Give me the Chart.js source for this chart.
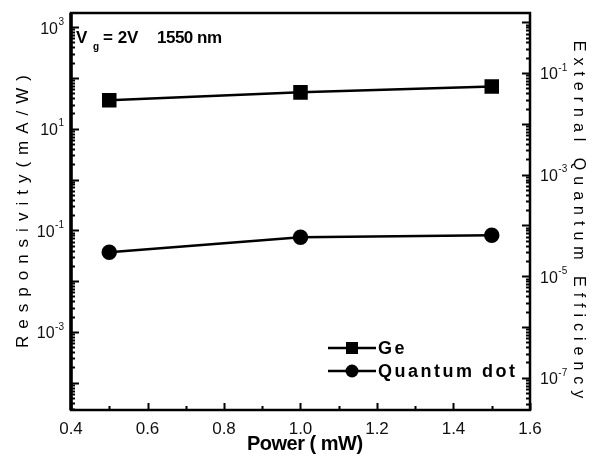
<!DOCTYPE html>
<html>
<head>
<meta charset="utf-8">
<script src="https://cdn.jsdelivr.net/npm/chart.js@4.4.1/dist/chart.umd.min.js"></script>
<style>
  html, body { margin: 0; padding: 0; background: #fff; }
  #wrap { width: 597px; height: 457px; }
</style>
</head>
<body>
<div id="wrap"><canvas id="chart" width="597" height="457"></canvas></div>
<script>
// ===== DATA =====
const POWER = [0.5, 1.0, 1.5];            // mW
const GE_RESP = [36.5, 52, 68];           // mA/W
const QD_RESP = [0.037, 0.073, 0.080];    // mA/W

const X_TICKS = [0.4, 0.6, 0.8, 1.0, 1.2, 1.4, 1.6];
const LEFT_EXP = [3, 1, -1, -3];
const RIGHT_EXP = [-1, -3, -5, -7];

const LEFT_RANGE = [2.9e-5, 1.9e3];
const EQE_FACTOR = 1.24 / 1.55 * 1e-3;   // mA/W -> EQE at 1550 nm
const RIGHT_RANGE = LEFT_RANGE.map(v => v * EQE_FACTOR);

const FONT = 'Liberation Sans, Arial, sans-serif';

// ===== HELPERS =====
function logTicks(scale, side, ctx, area) {
    const lo = Math.floor(Math.log10(scale.min));
    const hi = Math.ceil(Math.log10(scale.max));
    for (let d = lo; d <= hi; d++) {
        for (let m = 1; m <= 9; m++) {
            const v = m * Math.pow(10, d);
            if (v < scale.min || v > scale.max) continue;
            const y = Math.round(scale.getPixelForValue(v)) + 0.5;
            const len = m === 1 ? 8 : 4;
            ctx.beginPath();
            if (side === 'left') {
                ctx.moveTo(area.left, y); ctx.lineTo(area.left + len, y);
            } else {
                ctx.moveTo(area.right, y); ctx.lineTo(area.right - len, y);
            }
            ctx.stroke();
        }
    }
}

function powerLabel(ctx, exp, x, y, align) {
    const base = '10';
    const sup = String(exp);
    ctx.font = `16px ${FONT}`;
    const bw = ctx.measureText(base).width;
    ctx.font = `10px ${FONT}`;
    const sw = ctx.measureText(sup).width;
    const left = align === 'right' ? x - bw - sw - 0.5 : x;
    ctx.textAlign = 'left';
    ctx.textBaseline = 'middle';
    ctx.font = `16px ${FONT}`;
    ctx.fillText(base, left, y + 2);
    ctx.font = `10px ${FONT}`;
    ctx.fillText(sup, left + bw + 0.5, y - 5);
}

function spacedText(ctx, text, x, y, angle, font, spacing) {
    ctx.save();
    ctx.translate(x, y);
    ctx.rotate(angle);
    ctx.font = font;
    ctx.letterSpacing = spacing + 'px';
    ctx.textAlign = 'center';
    ctx.textBaseline = 'middle';
    ctx.fillText(text, spacing / 2, 0);
    ctx.restore();
}

// ===== DECORATION PLUGIN =====
const decor = {
    id: 'decor',
    afterDraw(chart) {
        const ctx = chart.ctx;
        const a = chart.chartArea;
        const xs = chart.scales.x, yl = chart.scales.yL, yr = chart.scales.yR;
        ctx.save();
        ctx.strokeStyle = '#000';
        ctx.fillStyle = '#000';

        // frame
        ctx.lineWidth = 2.5;
        ctx.strokeRect(a.left, a.top, a.right - a.left, a.bottom - a.top);
        ctx.lineWidth = 3.5;
        ctx.beginPath();
        ctx.moveTo(a.left, a.top); ctx.lineTo(a.left, a.bottom);
        ctx.stroke();

        // tick marks (inward)
        ctx.lineWidth = 2;
        for (let i = 0; i <= 12; i++) {
            const v = X_TICKS[0] + i * 0.1;
            const x = Math.round(xs.getPixelForValue(v)) + 0.5;
            const len = i % 2 === 0 ? 7 : 4;
            ctx.beginPath();
            ctx.moveTo(x, a.bottom); ctx.lineTo(x, a.bottom - len);
            ctx.stroke();
        }
        logTicks(yl, 'left', ctx, a);
        logTicks(yr, 'right', ctx, a);

        // log tick labels
        ctx.fillStyle = '#111';
        LEFT_EXP.forEach(e => powerLabel(ctx, e, a.left - 7, yl.getPixelForValue(Math.pow(10, e)), 'right'));
        RIGHT_EXP.forEach(e => powerLabel(ctx, e, a.right + 10, yr.getPixelForValue(Math.pow(10, e)), 'left'));

        // axis titles
        ctx.fillStyle = '#000';
        spacedText(ctx, 'Responsivity(mA/W)', 23, (a.top + a.bottom) / 2, -Math.PI / 2, `17px ${FONT}`, 7);
        spacedText(ctx, 'External Quantum Efficiency', 578, (a.top + a.bottom) / 2 + 8, Math.PI / 2, `16px ${FONT}`, 6);
        spacedText(ctx, 'Power ( mW)', 305, 444, 0, `bold 20px ${FONT}`, -0.5);

        // annotation
        ctx.textAlign = 'left';
        ctx.textBaseline = 'alphabetic';
        ctx.font = `bold 17px ${FONT}`;
        ctx.fillText('V', a.left + 5, a.top + 30);
        ctx.font = `bold 10px ${FONT}`;
        ctx.fillText('g', a.left + 22, a.top + 37);
        ctx.font = `bold 17px ${FONT}`;
        ctx.fillText('= 2V', a.left + 32, a.top + 30);
        ctx.letterSpacing = '-0.5px';
        ctx.fillText('1550 nm', a.left + 86, a.top + 30);
        ctx.letterSpacing = '0px';

        // legend
        const items = [
            { label: 'Ge', style: 'rect', y: 348 },
            { label: 'Quantum dot', style: 'circle', y: 371 }
        ];
        items.forEach(it => {
            ctx.lineWidth = 2.5;
            ctx.beginPath();
            ctx.moveTo(328, it.y); ctx.lineTo(376, it.y);
            ctx.stroke();
            if (it.style === 'rect') {
                ctx.fillRect(346, it.y - 6, 12, 12);
            } else {
                ctx.beginPath();
                ctx.arc(352, it.y, 6.5, 0, Math.PI * 2);
                ctx.fill();
            }
            ctx.font = `bold 18px ${FONT}`;
            ctx.letterSpacing = '2.5px';
            ctx.textAlign = 'left';
            ctx.textBaseline = 'middle';
            ctx.fillText(it.label, 378, it.y + 1);
            ctx.letterSpacing = '0px';
        });
        ctx.restore();
    }
};

// ===== CHART =====
const pts = arr => POWER.map((p, i) => ({ x: p, y: arr[i] }));

new Chart(document.getElementById('chart'), {
    type: 'line',
    data: {
        datasets: [
            {
                label: 'Ge',
                data: pts(GE_RESP),
                yAxisID: 'yL',
                borderColor: '#000',
                backgroundColor: '#000',
                borderWidth: 2.5,
                pointStyle: 'rect',
                pointRadius: 8.5,
                tension: 0
            },
            {
                label: 'Quantum dot',
                data: pts(QD_RESP),
                yAxisID: 'yL',
                borderColor: '#000',
                backgroundColor: '#000',
                borderWidth: 2.5,
                pointStyle: 'circle',
                pointRadius: 6.5,
                tension: 0
            }
        ]
    },
    options: {
        responsive: false,
        animation: false,
        devicePixelRatio: 1,
        layout: { padding: { top: 13 } },
        plugins: { legend: { display: false }, tooltip: { enabled: false } },
        scales: {
            x: {
                type: 'linear',
                min: X_TICKS[0],
                max: X_TICKS[X_TICKS.length - 1],
                afterBuildTicks: s => { s.ticks = X_TICKS.map(v => ({ value: v })); },
                afterFit: s => { s.height = 47; },
                grid: { display: false, drawTicks: false },
                border: { display: false },
                ticks: {
                    callback: v => v.toFixed(1),
                    color: '#111',
                    font: { family: FONT, size: 17 },
                    padding: 9,
                    maxRotation: 0
                }
            },
            yL: {
                type: 'logarithmic',
                position: 'left',
                min: LEFT_RANGE[0],
                max: LEFT_RANGE[1],
                afterBuildTicks: s => { s.ticks = LEFT_EXP.map(e => ({ value: Math.pow(10, e) })); },
                afterFit: s => { s.width = 71; },
                grid: { display: false, drawTicks: false },
                border: { display: false },
                ticks: { display: false }
            },
            yR: {
                type: 'logarithmic',
                position: 'right',
                min: RIGHT_RANGE[0],
                max: RIGHT_RANGE[1],
                afterBuildTicks: s => { s.ticks = RIGHT_EXP.map(e => ({ value: Math.pow(10, e) })); },
                afterFit: s => { s.width = 67; },
                grid: { display: false, drawTicks: false },
                border: { display: false },
                ticks: { display: false }
            }
        }
    },
    plugins: [decor]
});
</script>
</body>
</html>
